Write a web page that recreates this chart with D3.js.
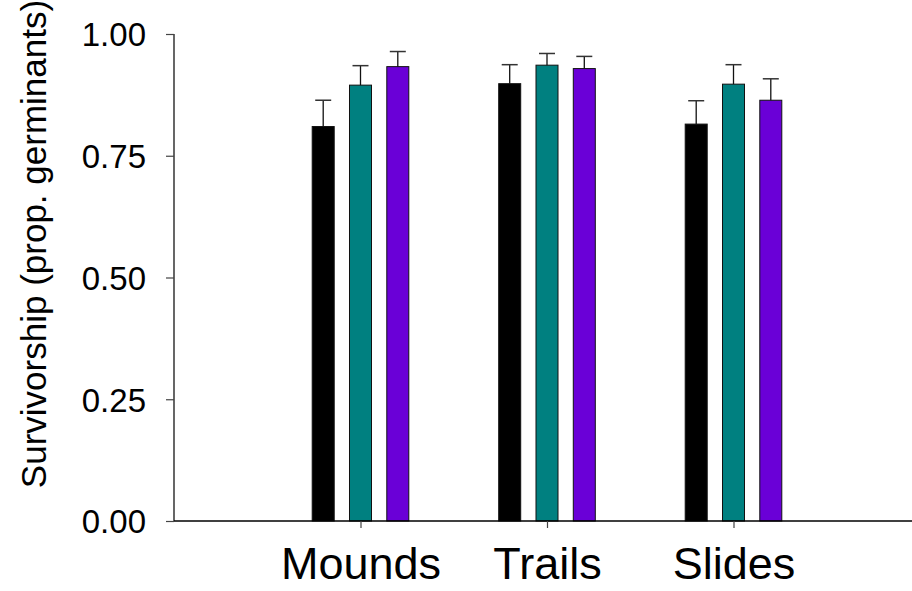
<!DOCTYPE html>
<html>
<head>
<meta charset="utf-8">
<script src="https://cdn.jsdelivr.net/npm/d3@7"></script>
<style>
  html, body { margin: 0; padding: 0; background: #fff; }
  svg { display: block; font-family: "Liberation Sans", Arial, sans-serif; }
</style>
</head>
<body>
<svg id="chart" width="912" height="591"></svg>
<script>
const categories = ["Mounds", "Trails", "Slides"];
const seriesNames = ["s1", "s2", "s3"];
const seriesColors = ["#000000", "#008080", "#6A00D7"];
const means = [
  [0.810, 0.895, 0.933],
  [0.898, 0.936, 0.929],
  [0.815, 0.897, 0.864]
];
const errors = [
  [0.054, 0.040, 0.031],
  [0.039, 0.024, 0.025],
  [0.048, 0.040, 0.044]
];
const yTicks = [0, 0.25, 0.5, 0.75, 1.0];
const yLabel = "Survivorship (prop. germinants)";

const svg = d3.select("#chart");
const x = d3.scaleLinear().domain([0, 4]).range([174, 920]);
const y = d3.scaleLinear().domain([0, 1]).range([521, 34]);
const inner = d3.scaleBand().domain(seriesNames).range([-48.3, 48.3]).paddingInner(0.41).paddingOuter(0);

const rows = [];
categories.forEach((c, i) => {
  seriesNames.forEach((s, j) => {
    rows.push({ c, i, s, j, v: means[i][j], e: errors[i][j] });
  });
});

const g = svg.append("g");
g.selectAll("rect.bar").data(rows).enter().append("rect")
  .attr("class", "bar")
  .attr("x", d => x(d.i + 1) + inner(d.s))
  .attr("width", inner.bandwidth())
  .attr("y", d => y(d.v))
  .attr("height", d => y(0) - y(d.v))
  .attr("fill", d => seriesColors[d.j])
  .attr("stroke", "#111")
  .attr("stroke-width", 1);

const capW = 16;
g.selectAll("line.err").data(rows).enter().append("line")
  .attr("x1", d => x(d.i + 1) + inner(d.s) + inner.bandwidth() / 2)
  .attr("x2", d => x(d.i + 1) + inner(d.s) + inner.bandwidth() / 2)
  .attr("y1", d => y(d.v))
  .attr("y2", d => y(d.v + d.e))
  .attr("stroke", "#111").attr("stroke-width", 1.3);
g.selectAll("line.cap").data(rows).enter().append("line")
  .attr("x1", d => x(d.i + 1) + inner(d.s) + inner.bandwidth() / 2 - capW / 2)
  .attr("x2", d => x(d.i + 1) + inner(d.s) + inner.bandwidth() / 2 + capW / 2)
  .attr("y1", d => y(d.v + d.e))
  .attr("y2", d => y(d.v + d.e))
  .attr("stroke", "#333").attr("stroke-width", 1.5);

const yAxis = d3.axisLeft(y).tickValues(yTicks).tickFormat(d3.format(".2f")).tickSize(8).tickPadding(20);
const ya = svg.append("g").attr("transform", "translate(174,0)").call(yAxis);
ya.select(".domain").attr("stroke", "#000").attr("stroke-width", 1.2).attr("d", `M0,${y(1)}V${y(0)}`);
ya.selectAll(".tick line").attr("stroke", "#444").attr("stroke-width", 1.2);
ya.selectAll(".tick text").attr("font-size", 33).attr("fill", "#000")
  .attr("font-family", "'Liberation Sans', Arial, sans-serif").attr("dy", "0.36em");

const xAxis = d3.axisBottom(x).tickValues([1, 2, 3]).tickFormat(d => categories[d - 1]).tickSize(7).tickPadding(19);
const xa = svg.append("g").attr("transform", `translate(0,${y(0)})`).call(xAxis);
xa.select(".domain").attr("stroke", "#000").attr("stroke-width", 1.5).attr("d", `M174,0H912`);
xa.selectAll(".tick line").attr("stroke", "#444").attr("stroke-width", 1.2);
xa.selectAll(".tick text").attr("font-size", 45).attr("fill", "#000")
  .attr("font-family", "'Liberation Sans', Arial, sans-serif");

svg.append("text")
  .attr("transform", `translate(46,${244}) rotate(-90)`)
  .attr("text-anchor", "middle")
  .attr("font-size", 35)
  .attr("fill", "#000")
  .text(yLabel);
</script>
</body>
</html>
